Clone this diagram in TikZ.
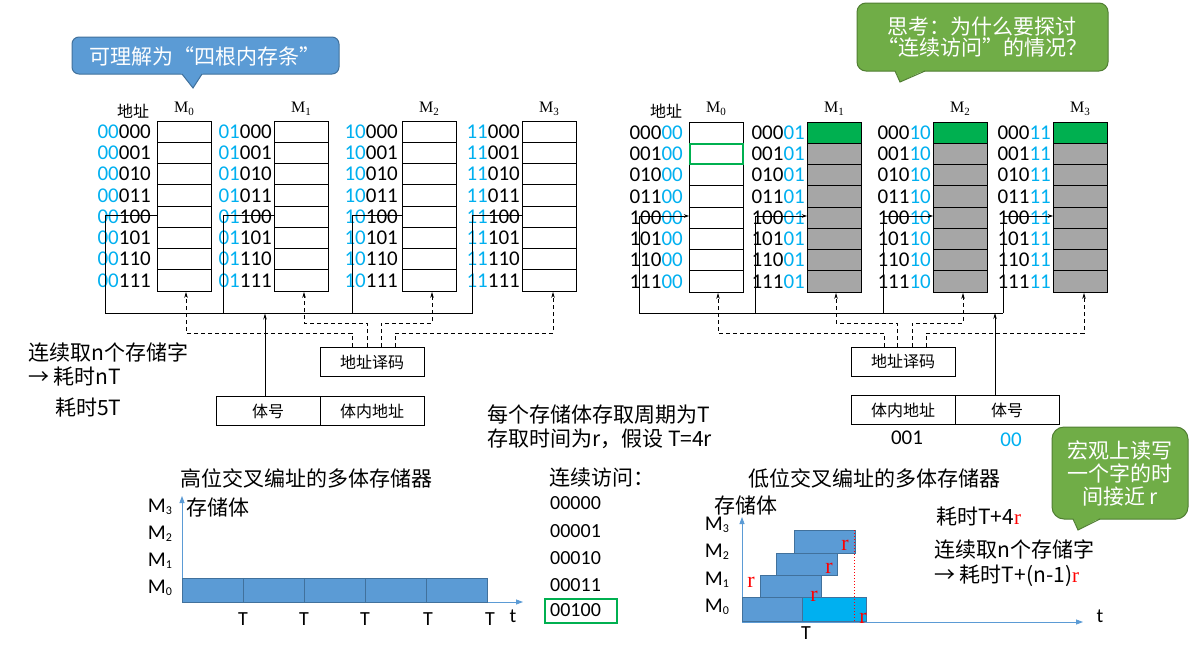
\documentclass[tikz,border=0pt]{standalone}
\usepackage{fontspec}
\setmainfont{Carlito}
\newfontfamily\cjk{Noto Sans CJK SC}
\newfontfamily\tms{Liberation Serif}
\usetikzlibrary{arrows.meta,calc}
\definecolor{addrblue}{HTML}{00B0F0}
\definecolor{barblue}{HTML}{5B9BD5}
\definecolor{barborder}{HTML}{41719C}
\definecolor{cgreen}{HTML}{70AD47}
\definecolor{cgreenb}{HTML}{507E32}
\definecolor{fillgreen}{HTML}{00B050}
\definecolor{cellgray}{HTML}{A6A6A6}
\newcommand\setfs[1]{\fontsize{#1}{#1}\selectfont}
\newcommand\msub[1]{M\raisebox{-2.5pt}{\setfs{12}#1}}
\newcommand\tsub[1]{M\raisebox{-3pt}{\setfs{11}#1}}
\tikzset{
 bank/.style={draw, line width=0.9pt, minimum width=54pt, minimum height=170pt, anchor=north west, inner sep=0},
 addr/.style={inner sep=0, anchor=east, font=\setfs{21}},
 cn/.style={inner sep=0, anchor=west, font=\cjk\setfs{21}},
 ttl/.style={inner sep=0, font=\tms\setfs{16}},
 smallcn/.style={inner sep=0, font=\cjk\setfs{16}},
 boxn/.style={draw, line width=0.8pt, minimum width=104pt, minimum height=29pt, inner sep=0, font=\cjk\setfs{16}},
 dsh/.style={dash pattern=on 4pt off 3pt, line width=0.8pt},
 tipa/.style={-{Stealth[length=6pt,width=3.5pt]}},
 ax/.style={barblue, line width=0.8pt, -{Triangle[length=7pt,width=5pt]}},
 bar/.style={draw=barborder, fill=barblue, line width=0.8pt},
 redr/.style={inner sep=0, text=red, font=\tms\setfs{22}},
 mlab/.style={inner sep=0, font=\setfs{21}},
 tlab/.style={inner sep=0, font=\setfs{20}},
 calltext/.style={inner sep=0, text=white, align=center, font=\cjk\setfs{21}}
}
\begin{document}
\begin{tikzpicture}[x=1pt,y=-1pt]
\useasboundingbox (0,0) rectangle (1190,645);
\fill[white] (0,0) rectangle (1190,645);

% ---------------- left diagram ----------------
\node[smallcn] (LAddr) at (133,111) {地址};
\foreach \p/\bx/\lx/\tx/\n in {00/157/151/184/0, 01/274/272/301/1, 10/402/398/429/2, 11/522/520/549/3} {
  \node[bank] (L\n) at (\bx,121) {};
  \foreach \k in {1,...,7} \draw[line width=0.8pt] (\bx,{121+21.25*\k}) -- ++(54,0);
  \foreach \b [count=\i from 0] in {000,001,010,011,100,101,110,111}
    \node[addr] (LA\n-\i) at (\lx,{121+21.25*(\i+0.5)}) {\textcolor{addrblue}{\p}\b};
  \node[ttl] (LT\n) at (\tx,109) {\tsub{\n}};
}
\foreach \n/\vx in {0/105.7,1/223,2/352,3/472}
  \draw[line width=0.8pt] (\vx,313.5) -- (\vx,215.7) -- (\vx,215.7 -| L\n.west);
\coordinate (busLa) at (105.7,313.5);
\coordinate (busLb) at (472,313.5);
\draw[line width=0.8pt] (busLa) -- (busLb);

\node[boxn] (decL) at (372,362) {地址译码};
\node[boxn] (bnoL) at (268,411) {体号};
\node[boxn] (inL) at (372,411) {体内地址};
\draw[line width=0.8pt,tipa] (265,0 |- bnoL.north) -- (265,313.5);
\draw[dsh,tipa] (352,0 |- decL.north) |- (186,333) -- (186,0 |- L0.south);
\draw[dsh,tipa] (367,0 |- decL.north) |- (304,323) -- (304,0 |- L1.south);
\draw[dsh,tipa] (381,0 |- decL.north) |- (432,323) -- (432,0 |- L2.south);
\draw[dsh,tipa] (395,0 |- decL.north) |- (553,333) -- (553,0 |- L3.south);

% ---------------- right diagram ----------------
\node[smallcn] (RAddr) at (666,111) {地址};
\foreach \s/\bx/\lx/\tx/\n in {00/689/683/716/0, 01/807/805/834/1, 10/933/931/960/2, 11/1053/1051/1080/3} {
  \ifnum\n>0
    \fill[cellgray] (\bx,122) rectangle ++(54,170);
    \fill[fillgreen] (\bx,122) rectangle ++(54,21.25);
  \fi
  \node[bank] (R\n) at (\bx,122) {};
  \foreach \k in {1,...,7} \draw[line width=0.8pt] (\bx,{122+21.25*\k}) -- ++(54,0);
  \foreach \b [count=\i from 0] in {000,001,010,011,100,101,110,111}
    \node[addr] (RA\n-\i) at (\lx,{122+21.25*(\i+0.5)}) {\b\textcolor{addrblue}{\s}};
  \node[ttl] (RT\n) at (\tx,109) {\tsub{\n}};
}
\draw[fillgreen, line width=2pt] (690,143.8) rectangle (743,163.8);
\foreach \n/\vx in {0/639,1/755,2/883,3/1003} {
  \draw[line width=0.8pt] (\vx,313) -- (\vx,216);
  \draw[line width=0.8pt,-{Stealth[length=5pt,width=3.5pt]}] (\vx,216) -- (\vx,216 -| R\n.west);
}
\coordinate (busRa) at (639,313);
\coordinate (busRb) at (1003,313);
\draw[line width=0.8pt] (busRa) -- (busRb);

\node[boxn] (decR) at (903,361.5) {地址译码};
\node[boxn] (inR) at (903,410) {体内地址};
\node[boxn] (bnoR) at (1007,410) {体号};
\draw[line width=0.8pt,tipa] (995,0 |- bnoR.north) -- (995,313);
\draw[dsh,tipa] (884,0 |- decR.north) |- (718,333) -- (718,0 |- R0.south);
\draw[dsh,tipa] (897,0 |- decR.north) |- (836,323) -- (836,0 |- R1.south);
\draw[dsh,tipa] (912,0 |- decR.north) |- (963,323) -- (963,0 |- R2.south);
\draw[dsh,tipa] (926,0 |- decR.north) |- (1084,333) -- (1084,0 |- R3.south);
\node[inner sep=0, font=\setfs{21}] (v001) at (907,438) {001};
\node[inner sep=0, font=\setfs{21}, text=addrblue] (v00) at (1011,440) {00};

% ---------------- callouts ----------------
\draw[draw=barborder, fill=barblue, line width=1pt, rounded corners=7pt] (72,37) rectangle (339,74);
\fill[barblue] (181,73) -- (193,88) -- (203,73) -- cycle;
\draw[barborder, line width=1pt] (182,74) -- (193,88) -- (202,74);
\node[calltext] (c1) at (205,56) {可理解为“四根内存条”};

\draw[draw=cgreenb, fill=cgreen, line width=1pt, rounded corners=9pt] (857,3) rectangle (1108,71);
\fill[cgreen] (895,70) -- (900,82) -- (925,70) -- cycle;
\draw[cgreenb, line width=1pt] (895,71) -- (900,82) -- (925,71);
\node[calltext] (c2) at (982,37) {思考：为什么要探讨\\“连续访问”的情况？};

\draw[draw=cgreenb, fill=cgreen, line width=1pt, rounded corners=12pt] (1052,427) rectangle (1188,519);
\fill[cgreen] (1073,518) -- (1078,530) -- (1100,518) -- cycle;
\draw[cgreenb, line width=1pt] (1073,519) -- (1078,530) -- (1100,519);
\node[calltext, font=\cjk\setfs{21}, align=center] (c3) at (1120,473) {宏观上读写\\[2pt]一个字的时\\[2pt]间接近 r};

% ---------------- texts ----------------
\node[cn] (t1) at (28,352) {连续取n个存储字};
\node[cn] (t2) at (28,377) {→ 耗时nT};
\node[cn] (t3) at (55,408) {耗时5T};
\node[cn] (t4) at (487,415) {每个存储体存取周期为T};
\node[cn] (t5) at (487,439) {存取时间为r，假设 T=4r};

% ---------------- left chart ----------------
\node[cn] (hTitle) at (180,478) {高位交叉编址的多体存储器};
\node[cn] (hBank) at (186,507) {存储体};
\coordinate (hO) at (182,602);
\draw[ax] (hO) -- (182,496);
\draw[ax] (hO) -- (523,602);
\foreach \a/\b in {182/243, 243/304, 304/365, 365/426, 426/487}
  \draw[bar] (\a,578) rectangle (\b,602);
\foreach \n/\yy in {3/507, 2/534, 1/561, 0/588}
  \node[mlab] (hM\n) at (160,\yy) {\msub{\n}};
\foreach \xx [count=\i] in {243,304,365,428,490}
  \node[tlab] (hT\i) at (\xx,619) {T};
\node[tlab] (ht) at (513,616) {t};

% ---------------- consecutive list ----------------
\node[cn] (lsTitle) at (549,478) {连续访问：};
\foreach \v/\yy [count=\i] in {00000/503, 00001/531, 00010/558, 00011/585, 00100/610}
  \node[inner sep=0, anchor=west, font=\setfs{20}] (ls\i) at (550,\yy) {\v};
\draw[fillgreen, line width=1.6pt] (545,599) rectangle (617,623);

% ---------------- right chart ----------------
\node[cn] (lTitle) at (748,478) {低位交叉编址的多体存储器};
\node[cn] (lBank) at (714,505) {存储体};
\coordinate (lO) at (742,622);
\draw[ax] (lO) -- (742,517);
\draw[ax] (lO) -- (1083,622);
\draw[bar] (742,597.7) rectangle (802.7,621);
\draw[draw=barborder, fill=addrblue, line width=0.8pt] (802.7,597.7) rectangle (866,621);
\draw[bar] (760.7,575.7) rectangle (821.7,597.7);
\draw[bar] (776.7,553) rectangle (837.7,575.7);
\draw[bar] (794,530.7) rectangle (855.7,553);
\draw[red, dotted, line width=1pt] (854.3,530) -- (854.3,622);
\foreach \n/\yy in {3/525, 2/552, 1/580, 0/607}
  \node[mlab] (lM\n) at (717,\yy) {\msub{\n}};
\node[redr] (r1) at (751,582) {r};
\node[redr] (r2) at (814,596) {r};
\node[redr] (r3) at (829,568) {r};
\node[redr] (r4) at (845,545) {r};
\node[redr] (r5) at (863,618) {r};
\node[tlab] (lT) at (806,633) {T};
\node[tlab] (lt) at (1100,616) {t};
\node[cn] (t6) at (936,517) {耗时T+4{\tms\color{red}r}};
\node[cn] (t7) at (934,549) {连续取n个存储字};
\node[cn] (t8) at (934,576) {→ 耗时T+(n-1){\tms\color{red}r}};
\end{tikzpicture}
\end{document}
